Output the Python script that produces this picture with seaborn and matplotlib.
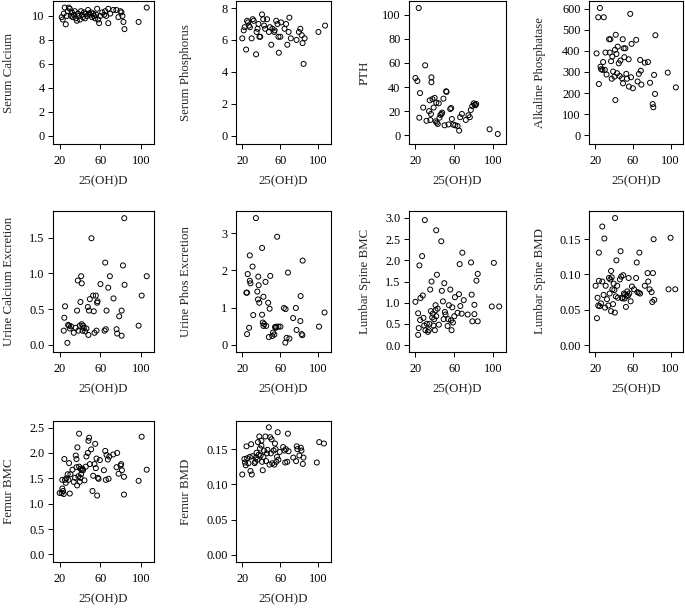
import numpy as np
import pandas as pd
import matplotlib
matplotlib.use("Agg")
import matplotlib.pyplot as plt
import seaborn as sns

# -----------------------------
# Dados
# -----------------------------
x_ca = [22, 23, 24, 25, 26, 27, 28, 29, 30, 31, 32, 33, 34, 35, 36, 37, 38, 39, 40, 41, 42, 43, 44, 45,
        46, 47, 48, 49, 50, 51, 52, 53, 54, 55, 56, 57, 58, 59, 60, 62, 64, 65, 66, 68, 68, 70, 73, 76,
        78, 80, 81, 82, 83, 84, 98, 106]
serum_ca = [9.9, 9.7, 10.2, 10.7, 9.3, 10.0, 10.4, 10.7, 10.6, 10.0, 10.3, 9.9, 10.1, 10.4, 9.8, 9.6,
            10.2, 10.0, 9.7, 10.4, 10.1, 9.9, 10.3, 9.8, 10.2, 10.0, 10.5, 10.2, 10.1, 10.3, 9.9, 10.2,
            10.0, 9.8, 10.1, 10.6, 9.7, 9.4, 10.0, 10.3, 10.1, 10.4, 10.0, 10.6, 9.4, 10.2, 10.5, 10.5,
            9.9, 10.4, 10.3, 10.0, 9.5, 8.9, 9.5, 10.7]

x_p = [20, 21.5, 22.5, 24, 25, 26, 27, 28, 29.8, 31, 32, 34.5, 35, 36, 37, 38, 38.9, 40.7, 42, 43, 44,
       46, 48, 49, 50.5, 51.6, 53.5, 54, 55.6, 57, 58, 58.4, 60, 60.7, 64.4, 66, 67.3, 68.7, 69.5, 71,
       77, 79.5, 81, 82.5, 83.3, 84.4, 85.5, 100, 107]
serum_p = [6.1, 6.6, 6.8, 5.4, 7.2, 7.1, 6.9, 6.8, 6.1, 7.3, 7.2, 5.1, 6.5, 6.7, 7.0, 6.2, 6.2, 7.6,
           7.3, 6.9, 6.7, 7.3, 6.5, 6.8, 5.7, 6.7, 6.5, 6.6, 7.2, 7.0, 6.2, 5.2, 6.2, 7.1, 6.7, 7.0,
           5.7, 6.5, 7.4, 6.1, 6.0, 6.5, 6.7, 6.3, 5.8, 4.5, 6.1, 6.5, 6.9]

x_pth = [20, 22, 23.4, 24, 24.7, 28, 30, 31.4, 34, 34.7, 35.4, 36, 36.5, 36.5, 37.5, 38.8, 39.8, 40.8,
         41.5, 42, 43, 44, 44.8, 45.8, 46.8, 47.5, 48.8, 50, 51.6, 52, 54, 55.8, 56.8, 57.5, 59, 61,
         63.4, 65, 66, 67.8, 71.8, 74.5, 76, 77, 78.5, 80, 81, 81.7, 82.5, 96.3, 104.7]
pth = [47.5, 45, 105.5, 14.6, 35, 23, 58, 12, 20, 29, 12.7, 17.7, 44, 48, 30, 23, 31, 11.6, 27, 10.5,
       9.4, 26.5, 14.6, 16.9, 17.7, 18.8, 30.4, 8.3, 36.5, 36, 9, 21.8, 22.6, 13.5, 8.8, 8.3, 7.7, 3.9,
       15, 17.7, 12.7, 16.6, 15, 21, 24.3, 26.5, 25.4, 24.9, 26, 5, 1.1]

x_alp = [21.4, 23.2, 23.9, 25, 25.6, 26.3, 27.7, 28.4, 29.1, 30.2, 30.9, 32, 34.7, 35.4, 36.1, 36.8,
         37.5, 38.2, 39, 40.4, 41, 41.4, 41.8, 42.5, 43.2, 43.9, 45, 46, 46.7, 48.5, 49.2, 49.5, 50.2,
         50.9, 52, 53, 53.7, 55.5, 55.8, 57.2, 58, 58.6, 60, 63.5, 65, 66.3, 67.7, 68.4, 69, 72.6, 76,
         78.2, 81, 81.7, 82.5, 83.5, 83.9, 97, 105.6]
alk_phos = [388, 559, 243, 603, 325, 313, 310, 347, 559, 310, 392, 288, 455, 392, 455, 351, 268, 373,
            302, 278, 405, 167, 476, 385, 294, 420, 341, 281, 354, 270, 455, 246, 412, 370, 412, 291,
            268, 360, 231, 575, 275, 433, 223, 452, 255, 291, 357, 306, 240, 344, 347, 249, 148, 133,
            286, 196, 474, 297, 227]

x_uca = [24, 24.6, 25.3, 27.6, 28.3, 29.3, 30, 31.2, 33.9, 35.9, 37.2, 37.9, 38.5, 39.8, 40.5, 41.2,
         41.8, 41.8, 42.5, 43.1, 43.8, 45.1, 46.4, 47.8, 48.4, 49, 49.8, 51.4, 53, 53.7, 54.4, 55.7,
         56.4, 57, 57.4, 60.3, 64.3, 65.6, 65, 66.3, 68, 69.6, 73.2, 76.2, 76.8, 78.8, 81.2, 81.2,
         82.5, 84.1, 83.8, 98, 101, 106]
urine_ca = [0.2, 0.38, 0.54, 0.03, 0.28, 0.27, 0.23, 0.26, 0.17, 0.24, 0.48, 0.9, 0.2, 0.27, 0.6, 0.96,
            0.29, 0.86, 0.2, 0.27, 0.24, 0.19, 0.23, 0.53, 0.14, 0.48, 0.64, 1.49, 0.69, 0.47, 0.17,
            0.69, 0.2, 0.59, 0.61, 0.85, 0.2, 0.22, 1.15, 0.48, 0.8, 0.96, 0.65, 0.22, 0.16, 0.4, 0.13,
            0.48, 1.11, 0.84, 1.77, 0.27, 0.69, 0.96]

x_uph = [24.3, 25, 25, 25.7, 27.2, 27.9, 27.9, 28.6, 30.8, 31.5, 34.3, 35.8, 36.5, 36.8, 37.9, 37.2,
         40.8, 40.8, 41.5, 42.2, 42.2, 43, 44.4, 45.1, 47.2, 47.9, 48.7, 49.4, 51.5, 52.3, 53.7, 54.4,
         55.1, 55.8, 56.6, 58, 60.1, 63.7, 65.2, 65.5, 66.6, 68, 69.5, 73.4, 76.3, 77, 81, 81.3, 82.4,
         83.1, 83.4, 100.6, 106.4]
urine_phos = [1.4, 1.4, 0.29, 1.9, 0.46, 2.4, 1.72, 1.65, 2.1, 0.8, 3.4, 1.43, 1.22, 1.83, 1.13, 1.6,
              2.6, 0.81, 0.6, 0.51, 1.29, 0.56, 1.69, 0.51, 1.13, 0.21, 0.97, 1.85, 0.24, 0.33, 0.28,
              0.48, 0.46, 0.49, 2.9, 0.49, 0.49, 0.99, 0.06, 0.96, 0.19, 1.94, 0.17, 0.72, 0.99, 0.4,
              0.64, 1.31, 0.29, 0.26, 2.26, 0.49, 0.87]

x_lsbmc = [20, 22.8, 22.8, 23.4, 24.1, 24.8, 25.2, 26.9, 27.6, 28.3, 29, 29.7, 30.3, 31.7, 32.8, 33.8,
           34.5, 35.2, 35.9, 36.6, 37.2, 37.9, 38.6, 39.3, 40, 40.7, 40.7, 41.4, 41.4, 42.1, 42.8,
           44.1, 46.6, 47.2, 48.3, 49, 49.7, 50.3, 51, 53.1, 53.8, 54.5, 55.9, 56.6, 57.2, 57.9, 58.6,
           60, 60.7, 63.4, 64.8, 65.5, 66.2, 67.6, 68.3, 69.7, 73.8, 77.2, 77.9, 78.6, 80.7, 80.7,
           82.8, 84.1, 84.1, 98.6, 100.7, 106.2]
ls_bmc = [1.02, 0.24, 0.75, 0.4, 1.88, 0.59, 1.11, 2.1, 1.17, 0.64, 0.46, 2.95, 0.35, 0.5, 0.31, 0.35,
          0.5, 1.31, 0.8, 1.5, 0.65, 0.74, 0.46, 0.61, 0.35, 0.94, 0.82, 2.71, 0.68, 1.66, 0.86, 0.48,
          2.45, 1.28, 1.03, 0.61, 1.46, 0.78, 0.72, 0.45, 0.61, 0.94, 1.31, 0.58, 0.35, 0.89, 0.53,
          0.68, 1.13, 0.76, 1.2, 1.91, 0.92, 0.74, 2.18, 1.06, 0.72, 1.95, 1.19, 0.56, 0.95, 0.73,
          1.52, 1.68, 0.56, 0.91, 1.94, 0.91]

x_lsbmd = [20.4, 21.8, 22.5, 23.2, 23.9, 23.9, 24.7, 26.1, 27.5, 27.5, 28.9, 29.7, 30.4, 31.1, 32.5,
           33.9, 34.6, 35.3, 36.1, 36.8, 36.8, 37.5, 38.2, 38.9, 39.6, 40.3, 40.8, 41.1, 41.9, 42.5,
           43.3, 44, 46.2, 46.9, 47.6, 48.3, 49, 49.7, 50.5, 51.2, 51.9, 52.6, 53.3, 54, 54.8, 55.5,
           56.2, 57.6, 59, 61.2, 63.4, 64.1, 64.8, 66.2, 66.9, 67.7, 72.7, 75.6, 76.3, 77.7, 79.9,
           80.6, 81.3, 82, 82.7, 97.8, 100, 105]
ls_bmd = [0.084, 0.038, 0.067, 0.056, 0.131, 0.091, 0.055, 0.059, 0.168, 0.09, 0.071, 0.151, 0.053,
          0.084, 0.065, 0.056, 0.095, 0.073, 0.093, 0.048, 0.105, 0.096, 0.079, 0.058, 0.087, 0.078,
          0.046, 0.18, 0.069, 0.12, 0.084, 0.067, 0.093, 0.133, 0.097, 0.067, 0.066, 0.099, 0.073,
          0.066, 0.072, 0.054, 0.07, 0.076, 0.07, 0.095, 0.073, 0.062, 0.083, 0.079, 0.095, 0.117,
          0.075, 0.074, 0.131, 0.073, 0.084, 0.102, 0.09, 0.079, 0.075, 0.061, 0.102, 0.15, 0.064,
          0.079, 0.152, 0.079]

x_fbmc = [20, 22, 22.6, 22.6, 23.3, 24, 24.6, 25.3, 26, 26.6, 27.9, 28.6, 29.3, 30, 30.6, 32.6, 33.9,
          35.2, 35.9, 36.6, 36.6, 37.2, 37.5, 38.5, 39.2, 39.2, 39.8, 40.5, 40.5, 41.2, 41.8, 42.5,
          43.1, 44.5, 45.8, 46.4, 47.8, 48.4, 49.1, 49.8, 51.1, 52.4, 53.1, 54.4, 55.1, 55.7, 56.4, 57,
          57.7, 58.4, 59.7, 63.7, 65, 65.6, 66.3, 67.6, 68.3, 69, 72.9, 76.2, 76.8, 78.2, 80.2, 80.8,
          81.5, 83.5, 83.5, 98, 101, 106]
femur_bmc = [1.21, 1.21, 1.47, 1.3, 1.25, 1.19, 1.88, 1.47, 1.41, 1.5, 1.58, 1.47, 1.8, 1.2, 1.58,
             1.67, 1.43, 1.51, 1.95, 1.72, 1.88, 1.36, 2.11, 1.54, 2.38, 1.73, 1.43, 1.51, 1.69, 1.58,
             1.66, 1.69, 1.66, 1.46, 1.73, 1.93, 2.0, 2.24, 2.3, 1.78, 2.07, 1.25, 1.55, 1.78, 2.18,
             1.7, 1.89, 1.16, 1.51, 1.49, 1.86, 1.66, 2.04, 1.47, 1.96, 1.87, 1.49, 1.93, 1.97, 1.72,
             2.0, 1.59, 1.75, 1.78, 1.66, 1.53, 1.18, 1.45, 2.32, 1.67]

x_fbmd = [20, 22.2, 22.9, 23.6, 24.4, 25.1, 26.5, 27.9, 28.6, 29.3, 30, 30.8, 32.9, 33.6, 34.3, 35,
          35.8, 36.5, 37.2, 37.9, 38.6, 39.3, 40.1, 40.1, 40.8, 41.5, 42.2, 42.9, 44.3, 45, 45.8, 46.5,
          47.9, 48.6, 49.3, 50, 50.8, 51.5, 52.9, 53.6, 54.3, 55, 55.7, 56.5, 57.2, 57.9, 59.3, 62.9,
          64.4, 65.1, 65.8, 67.2, 67.9, 68.6, 73.6, 76.5, 77.2, 77.9, 80, 81.5, 82.2, 83.6, 84.3, 98.3,
          100.8, 105.8]
femur_bmd = [0.114, 0.136, 0.131, 0.127, 0.154, 0.137, 0.13, 0.139, 0.119, 0.157, 0.114, 0.14, 0.13,
             0.132, 0.138, 0.145, 0.135, 0.16, 0.142, 0.168, 0.151, 0.141, 0.162, 0.155, 0.132, 0.12,
             0.139, 0.148, 0.168, 0.133, 0.144, 0.149, 0.181, 0.128, 0.167, 0.144, 0.164, 0.13, 0.148,
             0.128, 0.158, 0.15, 0.132, 0.139, 0.174, 0.135, 0.146, 0.153, 0.148, 0.131, 0.15, 0.132,
             0.172, 0.147, 0.138, 0.133, 0.154, 0.15, 0.141, 0.152, 0.148, 0.129, 0.138, 0.131, 0.16,
             0.158]

x_ticks = [20, 60, 100]

# (rótulo, x, y, ticks do eixo y, limites y, formato)
panels = [
    ("Serum Calcium", x_ca, serum_ca, [0, 2, 4, 6, 8, 10], (-0.7, 11.25), "{:.0f}"),
    ("Serum Phosphorus", x_p, serum_p, [0, 2, 4, 6, 8], (-0.52, 8.44), "{:.0f}"),
    ("PTH", x_pth, pth, [0, 20, 40, 60, 80, 100], (-7.2, 111.3), "{:.0f}"),
    ("Alkaline Phosphatase", x_alp, alk_phos, [0, 100, 200, 300, 400, 500, 600], (-41, 636), "{:.0f}"),
    ("Urine Calcium Excretion", x_uca, urine_ca, [0.0, 0.5, 1.0, 1.5], (-0.098, 1.87), "{:.1f}"),
    ("Urine Phos Excretion", x_uph, urine_phos, [0, 1, 2, 3], (-0.19, 3.59), "{:.0f}"),
    ("Lumbar Spine BMC", x_lsbmc, ls_bmc, [0.0, 0.5, 1.0, 1.5, 2.0, 2.5, 3.0], (-0.165, 3.165), "{:.1f}"),
    ("Lumbar Spine BMD", x_lsbmd, ls_bmd, [0.0, 0.05, 0.10, 0.15], (-0.0099, 0.19), "{:.2f}"),
    ("Femur BMC", x_fbmc, femur_bmc, [0.0, 0.5, 1.0, 1.5, 2.0, 2.5], (-0.15, 2.63), "{:.1f}"),
    ("Femur BMD", x_fbmd, femur_bmd, [0.0, 0.05, 0.10, 0.15], (-0.0104, 0.19), "{:.2f}"),
]

# -----------------------------
# Layout (pixels, figura 685x610)
# -----------------------------
W, H = 685, 610
col_edges = [(53, 154), (236, 331), (409, 506), (589, 683)]
row_edges = [(1, 144), (211, 352), (421, 562)]
ylab_dist = [38, 44, 38, 43]

sns.set_style("ticks")
plt.rcParams["font.family"] = ["Liberation Serif", "DejaVu Serif"]
plt.rcParams["axes.linewidth"] = 0.8

fig = plt.figure(figsize=(W / 100, H / 100), dpi=100)

for i, (label, xs, ys, yt, ylim, fmt) in enumerate(panels):
    r, c = divmod(i, 4)
    x0, x1 = col_edges[c]
    y0, y1 = row_edges[r]
    ax = fig.add_axes([x0 / W, 1 - y1 / H, (x1 - x0) / W, (y1 - y0) / H])
    df = pd.DataFrame({"x": xs, "y": ys})
    sns.scatterplot(data=df, x="x", y="y", ax=ax, marker="o", s=13,
                    facecolors="none", edgecolor="black", linewidth=0.7)
    ax.set_xlim(13.4, 113.2)
    ax.set_ylim(*ylim)
    ax.set_xticks(x_ticks)
    ax.set_yticks(yt)
    ax.set_yticklabels([fmt.format(v) for v in yt])
    for sp in ax.spines.values():
        sp.set_visible(True)
        sp.set_color("black")
        sp.set_linewidth(0.8)
    ax.tick_params(axis="both", direction="out", length=3.6, width=0.7,
                   labelsize=8.8, colors="black")
    ax.tick_params(axis="x", pad=4.5)
    ax.tick_params(axis="y", pad=2.5)
    ax.set_xlabel("25(OH)D", fontsize=9.3)
    ax.set_ylabel(label, fontsize=9.3)
    wpx, hpx = x1 - x0, y1 - y0
    ax.xaxis.set_label_coords(0.5, -31 / hpx)
    ax.yaxis.set_label_coords(-ylab_dist[c] / wpx, 0.5)

fig.savefig("out.png", dpi=100)
